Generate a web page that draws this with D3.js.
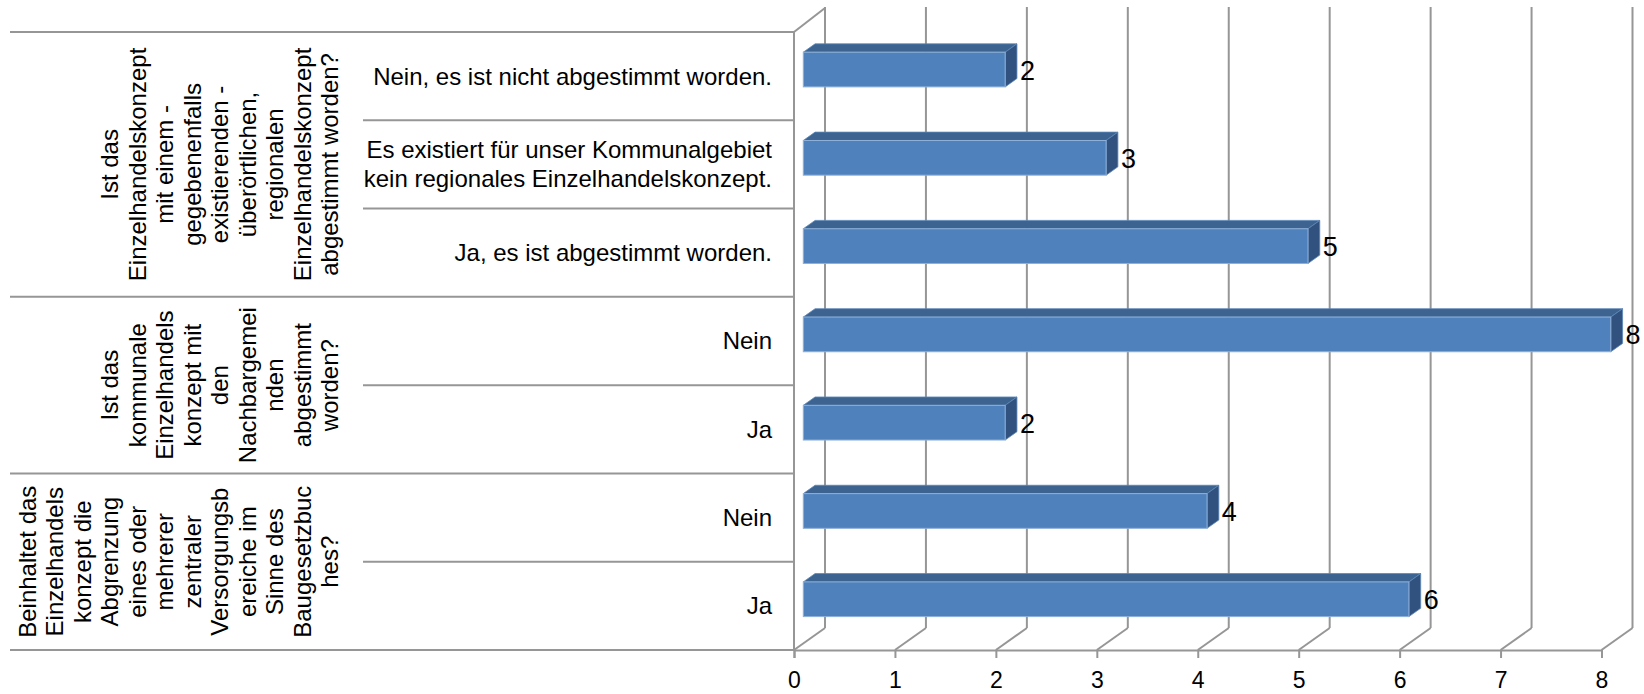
<!DOCTYPE html>
<html>
<head>
<meta charset="utf-8">
<script src="https://cdn.jsdelivr.net/npm/d3@7"></script>
<style>
  html, body { margin: 0; padding: 0; background: #fff; }
  svg { display: block; font-family: "Liberation Sans", Arial, sans-serif; }
</style>
</head>
<body>
<svg id="chart" width="1644" height="694"></svg>
<script>
// ---- data (top-to-bottom order as in the chart) ----
const categories = [
  ["Nein, es ist nicht abgestimmt worden."],
  ["Es existiert für unser Kommunalgebiet", "kein regionales Einzelhandelskonzept."],
  ["Ja, es ist abgestimmt worden."],
  ["Nein"],
  ["Ja"],
  ["Nein"],
  ["Ja"]
];
const values = [2, 3, 5, 8, 2, 4, 6];
const groupLabels = [
  ["Ist das", "Einzelhandelskonzept", "mit einem -", "gegebenenfalls", "existierenden -", "überörtlichen,", "regionalen", "Einzelhandelskonzept", "abgestimmt worden?"],
  ["Ist das", "kommunale", "Einzelhandels", "konzept mit", "den", "Nachbargemei", "nden", "abgestimmt", "worden?"],
  ["Beinhaltet das", "Einzelhandels", "konzept die", "Abgrenzung", "eines oder", "mehrerer", "zentraler", "Versorgungsb", "ereiche im", "Sinne des", "Baugesetzbuc", "hes?"]
];
const groupSizes = [3, 2, 2];
const xTicks = [0, 1, 2, 3, 4, 5, 6, 7, 8];

// ---- layout ----
const svg = d3.select("#chart");
const x = d3.scaleLinear().domain([0, 8]).range([794, 1601.5]);
const y = d3.scaleBand().domain(d3.range(categories.length)).range([32, 650]).paddingInner(0).paddingOuter(0);
const depthX = 31, depthY = -22;      // floor depth
const f1 = 0.3, f2 = 0.68;            // bar depth placement fractions
const barRatio = 0.393;
const gridColor = "#969696";
const fontSize = 24;

// back wall gridlines
const g = svg.append("g");
g.selectAll("line.back").data(xTicks).join("line")
  .attr("x1", d => x(d) + depthX).attr("x2", d => x(d) + depthX)
  .attr("y1", 7).attr("y2", 650 + depthY)
  .attr("stroke", gridColor).attr("stroke-width", 2);
// floor diagonals
g.selectAll("line.diag").data(xTicks).join("line")
  .attr("x1", d => x(d)).attr("y1", 650)
  .attr("x2", d => x(d) + depthX).attr("y2", 650 + depthY)
  .attr("stroke", gridColor).attr("stroke-width", 2);
// left wall top diagonal
g.append("line").attr("x1", x(0)).attr("y1", 32).attr("x2", x(0) + depthX).attr("y2", 32 + depthY - 2)
  .attr("stroke", gridColor).attr("stroke-width", 2);
// left front vertical
g.append("line").attr("x1", x(0)).attr("y1", 32).attr("x2", x(0)).attr("y2", 650)
  .attr("stroke", gridColor).attr("stroke-width", 2);

// x axis (front floor edge)
const axis = d3.axisBottom(x).tickValues(xTicks).tickSize(8).tickPadding(13.5).tickFormat(d3.format("d"));
const ax = svg.append("g").attr("transform", "translate(0,650)").call(axis);
ax.attr("font-size", null).attr("font-family", null);
ax.select(".domain").attr("stroke", gridColor).attr("stroke-width", 2);
ax.selectAll(".tick line").attr("stroke", gridColor).attr("stroke-width", 2);
ax.selectAll(".tick text").style("font-size", "23px").attr("fill", "#000")
  .style("font-family", "'Liberation Sans', Arial, sans-serif");

// category table lines
const tableLeft = 10, subLeft = 363;
const boundaries = [];
let idx = 0;
const groupStarts = [];
groupSizes.forEach(s => { groupStarts.push(idx); idx += s; });
for (let i = 0; i <= categories.length; i++) {
  const yy = i < categories.length ? y(i) : y(categories.length - 1) + y.bandwidth();
  const isGroup = i === categories.length || groupStarts.includes(i);
  boundaries.push({ y: yy, left: isGroup ? tableLeft : subLeft });
}
svg.append("g").selectAll("line").data(boundaries).join("line")
  .attr("x1", d => d.left).attr("x2", x(0))
  .attr("y1", d => d.y).attr("y2", d => d.y)
  .attr("stroke", gridColor).attr("stroke-width", 2);

// category labels
const catG = svg.append("g");
categories.forEach((lines, i) => {
  const cy = y(i) + y.bandwidth() / 2;
  const lh = 29;
  const t = catG.append("text").attr("text-anchor", "end").attr("font-size", fontSize).attr("fill", "#000");
  lines.forEach((ln, j) => {
    t.append("tspan").attr("x", 772)
      .attr("y", cy + (j - (lines.length - 1) / 2) * lh + fontSize * 0.35)
      .text(ln);
  });
});

// group labels (rotated)
const grpG = svg.append("g");
groupLabels.forEach((lines, gi) => {
  const s = groupStarts[gi];
  const top = y(s), bottom = y(s + groupSizes[gi] - 1) + y.bandwidth();
  const cy = (top + bottom) / 2;
  const n = lines.length;
  lines.forEach((ln, j) => {
    const bx = 338 - (n - 1 - j) * 27.5;
    grpG.append("text").attr("transform", `translate(${bx},${cy}) rotate(-90)`)
      .attr("text-anchor", "middle").attr("font-size", fontSize).attr("fill", "#000").text(ln);
  });
});

// bars (3D)
const barsG = svg.append("g");
const bh = y.bandwidth() * barRatio;
const dx1 = depthX * f1, dy1 = depthY * f1;
const ddx = depthX * (f2 - f1), ddy = depthY * (f2 - f1);
values.forEach((v, i) => {
  const cy = y(i) + y.bandwidth() / 2 + dy1;
  const x0 = x(0) + dx1, x1 = x(v) + dx1;
  const yt = cy - bh / 2, yb = cy + bh / 2;
  // top face
  barsG.append("path")
    .attr("d", `M${x0},${yt} L${x0 + ddx},${yt + ddy} L${x1 + ddx},${yt + ddy} L${x1},${yt} Z`)
    .attr("fill", "#3d6391").attr("stroke", "#5b86b8").attr("stroke-width", 0.8);
  // right face
  barsG.append("path")
    .attr("d", `M${x1},${yt} L${x1 + ddx},${yt + ddy} L${x1 + ddx},${yb + ddy} L${x1},${yb} Z`)
    .attr("fill", "#31527e").attr("stroke", "#5b86b8").attr("stroke-width", 0.8);
  // front face
  barsG.append("rect")
    .attr("x", x0).attr("y", yt).attr("width", x1 - x0).attr("height", bh)
    .attr("fill", "#4f81bd").attr("stroke", "#8fb0d8").attr("stroke-width", 1);
  // value label
  barsG.append("text")
    .attr("x", x(v) + depthX * f2 + 3).attr("y", cy + 1)
    .attr("dominant-baseline", "central")
    .attr("font-size", 27).attr("fill", "#000").text(v);
});
</script>
</body>
</html>
